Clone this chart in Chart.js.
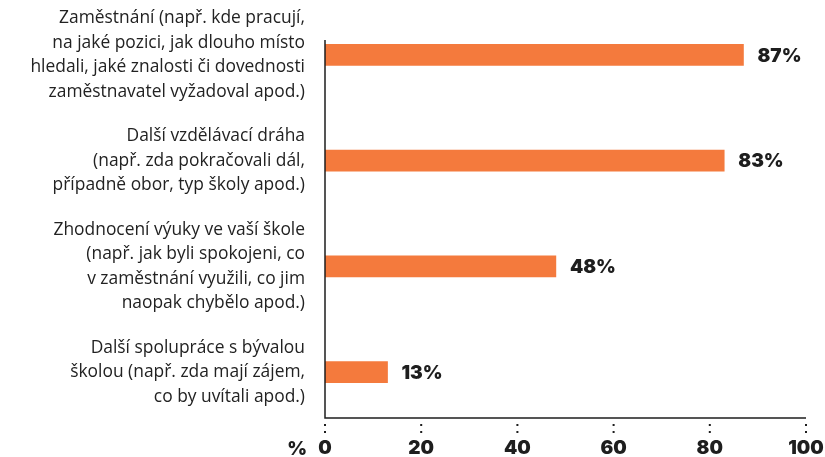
<!DOCTYPE html>
<html>
<head>
<meta charset="utf-8">
<script src="https://cdn.jsdelivr.net/npm/chart.js@4.4.0/dist/chart.umd.min.js"></script>
<style>
  html, body { margin: 0; padding: 0; background: #fff; }
  #wrap { width: 825px; height: 457px; }
</style>
</head>
<body>
<div id="wrap"><canvas id="chart"></canvas></div>
<script>
// --- Data ---
const categories = [
  ['Zaměstnání (např. kde pracují,', 'na jaké pozici, jak dlouho místo', 'hledali, jaké znalosti či dovednosti', 'zaměstnavatel vyžadoval apod.)'],
  ['Další vzdělávací dráha', '(např. zda pokračovali dál,', 'případně obor, typ školy apod.)'],
  ['Zhodnocení výuky ve vaší škole', '(např. jak byli spokojeni, co', 'v zaměstnání využili, co jim', 'naopak chybělo apod.)'],
  ['Další spolupráce s bývalou', 'školou (např. zda mají zájem,', 'co by uvítali apod.)']
];
const shares = [87, 83, 48, 13];
const xTicks = [0, 20, 40, 60, 80, 100];

const barColor = '#F47A3D';
const inkColor = '#1e1e1e';
const numberFont = '900 19px Inter';

// --- Plugin: axis lines, dotted ticks, value labels and the "%" unit ---
const decorations = {
  id: 'decorations',
  afterDatasetsDraw(chart) {
    const ctx = chart.ctx;
    const x = chart.scales.x;
    const area = chart.chartArea;
    const x0 = x.getPixelForValue(0);
    const x100 = x.getPixelForValue(100);
    const axisY = area.bottom - 7;

    ctx.save();
    ctx.strokeStyle = inkColor;
    ctx.lineWidth = 1.5;
    ctx.beginPath();
    ctx.moveTo(x0, area.top + 38);
    ctx.lineTo(x0, axisY);
    ctx.lineTo(x100, axisY);
    ctx.stroke();

    // dotted tick marks
    ctx.fillStyle = inkColor;
    xTicks.forEach(v => {
      const px = x.getPixelForValue(v);
      ctx.fillRect(px - 1, axisY + 6, 2, 2);
      ctx.fillRect(px - 1, axisY + 13, 2, 2);
    });

    // value labels
    ctx.font = numberFont;
    ctx.textAlign = 'left';
    ctx.textBaseline = 'middle';
    const meta = chart.getDatasetMeta(0);
    meta.data.forEach((bar, i) => {
      ctx.fillText(shares[i] + '%', bar.x + 14, bar.y + 1);
    });

    // unit label left of the x ticks
    ctx.textAlign = 'right';
    ctx.fillText('%', x0 - 18, axisY + 31);
    ctx.restore();
  }
};

const ctx = document.getElementById('chart').getContext('2d');
const chart = new Chart(ctx, {
  type: 'bar',
  data: {
    labels: categories,
    datasets: [{
      data: shares,
      backgroundColor: barColor,
      barThickness: 21,
      borderWidth: 0
    }]
  },
  plugins: [decorations],
  options: {
    indexAxis: 'y',
    responsive: true,
    maintainAspectRatio: false,
    animation: false,
    layout: { padding: { top: 2, right: 19, left: 0, bottom: 0 } },
    plugins: {
      legend: { display: false },
      tooltip: { enabled: false }
    },
    scales: {
      x: {
        min: 0,
        max: 100,
        afterBuildTicks: scale => { scale.ticks = xTicks.map(v => ({ value: v })); },
        afterFit: scale => {
          scale.height = 32;
          scale.paddingLeft = 0;
          scale.paddingRight = 0;
        },
        grid: { display: false, drawTicks: false },
        border: { display: false },
        ticks: {
          padding: 12,
          color: inkColor,
          font: { family: 'Inter', size: 19, weight: 900 }
        }
      },
      y: {
        afterFit: scale => {
          scale.width = 325;
          scale.paddingTop = 0;
          scale.paddingBottom = 0;
        },
        grid: { display: false, drawTicks: false },
        border: { display: false },
        ticks: {
          padding: 20,
          color: '#222',
          font: { family: 'Open Sans', size: 17.4, lineHeight: '24.5px' }
        }
      }
    }
  }
});
</script>
</body>
</html>
